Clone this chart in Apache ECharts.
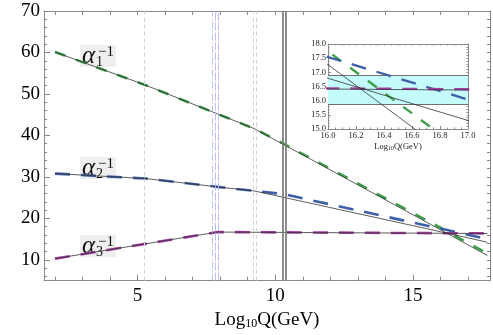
<!DOCTYPE html>
<html><head><meta charset="utf-8">
<script src="https://cdn.jsdelivr.net/npm/echarts@6/dist/echarts.min.js"></script>
<style>html,body{margin:0;padding:0;background:#fff}#c{width:493px;height:335px}</style>
</head><body><div id="c"></div>
<script>
// ---- data (x = log10 Q/GeV) ----
const a1BlackX = [2, 5.3, 7.9, 9.25, 16, 17.7];
const a1BlackY = [60.1, 52.1, 45.2, 41.6, 17.27, 11.05];
const a1ColorX = [2, 5.3, 7.9, 9.25, 10.3, 16, 17.7];
const a1ColorY = [60.1, 52.1, 45.2, 41.6, 38.0, 17.74, 11.54];
const a2BlackX = [2, 5.3, 7.9, 9.25, 16, 17.7];
const a2BlackY = [30.8, 29.6, 27.6, 26.6, 16.79, 14.26];
const a2ColorX = [2, 5.3, 7.9, 10.3, 16, 17.7];
const a2ColorY = [30.8, 29.6, 27.6, 25.85, 17.54, 14.99];
const a3BlackX = [2, 7.9, 17.7];
const a3BlackY = [10.3, 16.7, 16.35];
const a3ColorX = [2, 7.9, 17.7];
const a3ColorY = [10.3, 16.7, 16.38];
// threshold markers
const lightDashX = [5.25, 9.2, 9.3];
const blueDashX = [7.71, 7.83, 7.93];
const solidX = [10.27, 10.39];
// inset band
const bandLow = 15.87, bandHigh = 16.9;
// ticks
const mainXLabels = [5, 10, 15];
const mainXMinor = [2,3,4,6,7,8,9,11,12,13,14,16,17];
const mainYLabels = [10, 20, 30, 40, 50, 60, 70];
const mainYMinor = [6,8,12,14,16,18,22,24,26,28,32,34,36,38,42,44,46,48,52,54,56,58,62,64,66,68];
const insetXLabels = [16.0, 16.2, 16.4, 16.6, 16.8, 17.0];
const insetYLabels = [15.0, 15.5, 16.0, 16.5, 17.0, 17.5, 18.0];
const insetXMinor = []; for (let i = 0; i <= 20; i++) insetXMinor.push(+(16 + i * 0.05).toFixed(2));
const insetYMinor = []; for (let i = 0; i <= 30; i++) insetYMinor.push(+(15 + i * 0.1).toFixed(1));
const labelSubs = ['1', '2', '3'];

const zip = (xs, ys) => xs.map((x, i) => [x, ys[i]]);
const serif = '"Liberation Serif", "DejaVu Serif", serif';
const frame = '#8a8a8a';
const GREEN = '#3d9e4a', BLUE = '#3e5fa8', MAG = '#a33ea3';

function xAx(o) {
  return Object.assign({type: 'value', splitLine: {show: false},
    axisLine: {show: false, onZero: false, lineStyle: {color: frame, width: 1}},
    axisLabel: {show: false}, axisTick: {show: false}}, o);
}
const tick = (vals, len) => ({show: true, inside: true, length: len, customValues: vals, lineStyle: {color: frame, width: 1}});

const xAxes = [
  xAx({gridIndex: 0, min: 1.6, max: 17.8, position: 'bottom',
    axisLine: {show: true, onZero: false, lineStyle: {color: frame}},
    axisTick: tick(mainXLabels, 6),
    axisLabel: {show: true, customValues: mainXLabels, margin: 6, color: '#000', fontSize: 19, fontFamily: serif},
    name: '{n|Log}{s|10}{n|Q(GeV)}', nameLocation: 'middle', nameGap: 23,
    nameTextStyle: {rich: {
      n: {fontSize: 19, fontFamily: serif, color: '#000', lineHeight: 20},
      s: {fontSize: 12, fontFamily: serif, color: '#000', lineHeight: 12, verticalAlign: 'bottom'}}}}),
  xAx({gridIndex: 0, min: 1.6, max: 17.8, position: 'bottom', axisTick: tick(mainXMinor, 4)}),
  xAx({gridIndex: 0, min: 1.6, max: 17.8, position: 'top',
    axisLine: {show: true, onZero: false, lineStyle: {color: frame}},
    axisTick: tick(mainXLabels.concat(mainXMinor), 4)}),
  xAx({gridIndex: 1, min: 16, max: 17, position: 'bottom',
    axisLine: {show: true, onZero: false, lineStyle: {color: frame}},
    axisTick: tick(insetXLabels, 3),
    axisLabel: {show: true, customValues: insetXLabels, margin: 2, color: '#222', fontSize: 8.5, fontFamily: serif,
      formatter: v => (+v).toFixed(1)},
    name: '{n|Log}{s|10}{n|Q(GeV)}', nameLocation: 'middle', nameGap: 13,
    nameTextStyle: {rich: {
      n: {fontSize: 8.5, fontFamily: serif, color: '#222', lineHeight: 9},
      s: {fontSize: 6, fontFamily: serif, color: '#222', lineHeight: 6, verticalAlign: 'bottom'}}}}),
  xAx({gridIndex: 1, min: 16, max: 17, position: 'bottom', axisTick: tick(insetXMinor, 1.5)}),
  xAx({gridIndex: 1, min: 16, max: 17, position: 'top',
    axisLine: {show: true, onZero: false, lineStyle: {color: frame}},
    axisTick: tick(insetXMinor, 1.5)})
];
const yAxes = [
  xAx({gridIndex: 0, min: 5, max: 70, position: 'left',
    axisLine: {show: true, onZero: false, lineStyle: {color: frame}},
    axisTick: tick(mainYLabels, 6),
    axisLabel: {show: true, customValues: mainYLabels, margin: 4, color: '#000', fontSize: 19, fontFamily: serif}}),
  xAx({gridIndex: 0, min: 5, max: 70, position: 'left', axisTick: tick(mainYMinor, 3)}),
  xAx({gridIndex: 0, min: 5, max: 70, position: 'right',
    axisLine: {show: true, onZero: false, lineStyle: {color: frame}},
    axisTick: tick(mainYLabels.concat(mainYMinor), 3)}),
  xAx({gridIndex: 1, min: 15, max: 18, position: 'left',
    axisLine: {show: true, onZero: false, lineStyle: {color: frame}},
    axisTick: tick(insetYLabels, 3),
    axisLabel: {show: true, customValues: insetYLabels, margin: 2, color: '#222', fontSize: 8.5, fontFamily: serif,
      formatter: v => (+v).toFixed(1)}}),
  xAx({gridIndex: 1, min: 15, max: 18, position: 'left', axisTick: tick(insetYMinor, 1.5)}),
  xAx({gridIndex: 1, min: 15, max: 18, position: 'right',
    axisLine: {show: true, onZero: false, lineStyle: {color: frame}},
    axisTick: tick(insetYMinor, 1.5)})
];

function vline(x, color, type, width) {
  return {xAxis: x, lineStyle: {color: color, type: type, width: width}};
}
const mainMarks = [].concat(
  lightDashX.map(x => vline(x, '#d2d2d2', [4, 3], 1)),
  blueDashX.map((x, i) => vline(x, '#b4b8f8', i === 0 ? [7, 2, 1, 2] : [8, 2], 0.9)),
  solidX.map(x => vline(x, '#808080', 'solid', 1.8))
);

function colored(xs, ys, color, dash, xi, yi, z, w) {
  return {type: 'line', data: zip(xs, ys), xAxisIndex: xi, yAxisIndex: yi, showSymbol: false, symbol: 'none',
    clip: true, silent: true, z: z, lineStyle: {color: color, width: w || 2.6, type: dash}};
}
function black(xs, ys, xi, yi, z) {
  return {type: 'line', data: zip(xs, ys), xAxisIndex: xi, yAxisIndex: yi, showSymbol: false, symbol: 'none',
    clip: true, silent: true, z: z, lineStyle: {color: '#333', width: 0.8}};
}

const series = [
  // main chart
  colored(a1ColorX, a1ColorY, GREEN, [11, 11], 0, 0, 3),
  colored(a2ColorX, a2ColorY, BLUE, [15, 11], 0, 0, 3),
  colored(a3ColorX, a3ColorY, MAG, [15, 11], 0, 0, 3),
  black(a1BlackX, a1BlackY, 0, 0, 4),
  black(a2BlackX, a2BlackY, 0, 0, 4),
  Object.assign(black(a3BlackX, a3BlackY, 0, 0, 4), {
    markLine: {silent: true, symbol: 'none', label: {show: false}, data: mainMarks}
  }),
  // inset
  Object.assign(colored(a1ColorX, a1ColorY, GREEN, [11, 11], 3, 3, 13, 2.3), {
    markArea: {silent: true, itemStyle: {color: '#c4fbfb'}, data: [[{yAxis: bandLow}, {yAxis: bandHigh}]]},
    markLine: {silent: true, symbol: 'none', label: {show: false},
      lineStyle: {color: '#707070', type: 'solid', width: 1},
      data: [{yAxis: bandLow}, {yAxis: bandHigh}]}
  }),
  colored(a2ColorX, a2ColorY, BLUE, [15, 11], 3, 3, 13, 2.3),
  colored(a3ColorX, a3ColorY, MAG, [15, 11], 3, 3, 13, 2.3),
  black(a1BlackX, a1BlackY, 3, 3, 14),
  black(a2BlackX, a2BlackY, 3, 3, 14),
  black(a3BlackX, a3BlackY, 3, 3, 14)
];

const labelTops = [45, 157, 235];
const graphic = labelSubs.map((s, i) => ({
  type: 'group', x: 80, y: labelTops[i], z: 50, silent: true,
  children: [
    {type: 'rect', shape: {x: 0, y: 0, width: 36, height: 22}, style: {fill: '#efefef'}},
    {type: 'text', x: 2, y: 11, style: {text: 'α', font: 'italic 25px ' + serif, fill: '#111',
      align: 'left', verticalAlign: 'middle', textAlign: 'left', textVerticalAlign: 'middle'}},
    {type: 'text', x: 16, y: 17.5, style: {text: s, font: '14px ' + serif, fill: '#111',
      align: 'left', verticalAlign: 'middle', textAlign: 'left', textVerticalAlign: 'middle'}},
    {type: 'text', x: 18, y: 7.5, style: {text: '−1', font: '15px ' + serif, fill: '#111',
      align: 'left', verticalAlign: 'middle', textAlign: 'left', textVerticalAlign: 'middle'}}
  ]
}));

const chart = echarts.init(document.getElementById('c'), null, {renderer: 'canvas'});
chart.setOption({
  animation: false,
  backgroundColor: '#fff',
  grid: [
    {left: 44, top: 11, width: 446, height: 277, containLabel: false},
    {left: 328, top: 44, width: 140, height: 85, containLabel: false, show: true, backgroundColor: '#fff', borderWidth: 0}
  ],
  xAxis: xAxes,
  yAxis: yAxes,
  series: series,
  graphic: graphic
});
</script>
</body></html>
